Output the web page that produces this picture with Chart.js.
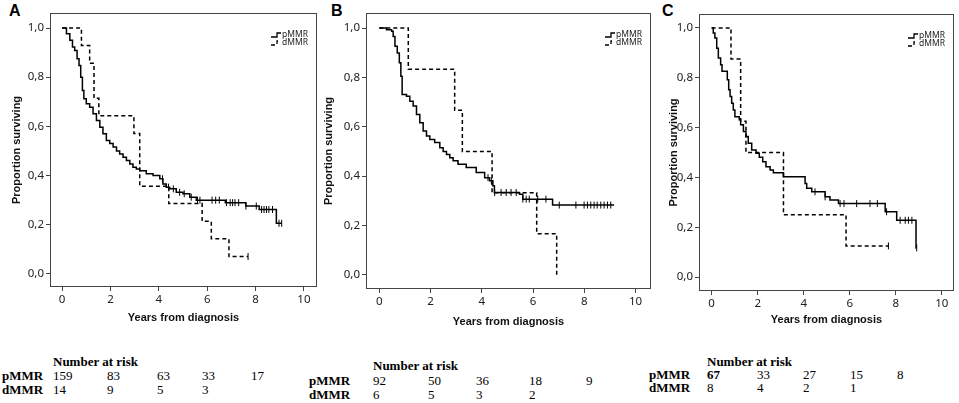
<!DOCTYPE html>
<html>
<head>
<meta charset="utf-8">
<script src="https://cdn.jsdelivr.net/npm/chart.js@4.4.1/dist/chart.umd.min.js"></script>
<style>
  html, body { margin: 0; padding: 0; background: #fff; }
  body { width: 959px; height: 403px; position: relative; overflow: hidden; }
  canvas { position: absolute; top: 0; }
  .letter { position: absolute; top: 3px; font: bold 16px "Liberation Sans", Arial, sans-serif; line-height: 16px; color: #000; }
  .risk { position: absolute; font: 13px "Liberation Serif", "Times New Roman", serif; line-height: 14px; white-space: nowrap; color: #000; }
  .risk.bold { font-weight: bold; }
</style>
</head>
<body>
<div class="letter" style="left:9px">A</div>
<div class="letter" style="left:331px">B</div>
<div class="letter" style="left:662px">C</div>
<script>
// Ticks shared by the three panels
const xTicks = [0, 2, 4, 6, 8, 10];
const yTicks = [0, 0.2, 0.4, 0.6, 0.8, 1.0];
const groupLabels = ['pMMR', 'dMMR'];

// Panel A - Kaplan-Meier steps: time of drop, survival after drop
const aPmmrT = [0, 0.18, 0.32, 0.43, 0.52, 0.62, 0.70, 0.77, 0.84, 0.90, 1.00, 1.14, 1.28, 1.42, 1.56, 1.69, 1.83, 1.97, 2.11, 2.25, 2.38, 2.52, 2.66, 2.80, 2.93, 3.07, 3.21, 3.48, 3.76, 4.04, 4.17, 4.31, 4.45, 4.72, 5.00, 5.28, 5.55, 6.75, 7.60, 8.15, 8.86, 9.08];
const aPmmrS = [1, 0.977, 0.95, 0.923, 0.909, 0.875, 0.848, 0.80, 0.746, 0.712, 0.692, 0.678, 0.651, 0.624, 0.597, 0.57, 0.543, 0.53, 0.516, 0.50, 0.488, 0.475, 0.461, 0.447, 0.434, 0.427, 0.42, 0.407, 0.40, 0.387, 0.366, 0.353, 0.346, 0.332, 0.326, 0.312, 0.30, 0.29, 0.276, 0.262, 0.206, 0.206];
const aPmmrCens = [4.15, 4.4, 4.6, 4.86, 5.05, 5.34, 5.6, 5.7, 6.2, 6.35, 6.5, 6.8, 6.95, 7.05, 7.15, 7.3, 7.6, 8.03, 8.25, 8.35, 8.45, 8.55, 8.7, 8.97, 9.08];
const aDmmrT = [0, 0.80, 1.14, 1.32, 1.52, 2.97, 3.21, 4.41, 5.79, 6.17, 6.90, 7.69];
const aDmmrS = [1, 0.929, 0.857, 0.714, 0.643, 0.571, 0.357, 0.286, 0.214, 0.143, 0.071, 0.071];
const aDmmrCens = [7.69];
const aRiskP = [159, 83, 63, 33, 17];
const aRiskD = [14, 9, 5, 3];

// Panel B
const bPmmrT = [0, 0.28, 0.48, 0.54, 0.61, 0.70, 0.78, 0.84, 0.89, 1.06, 1.19, 1.32, 1.45, 1.58, 1.71, 1.84, 1.97, 2.16, 2.36, 2.49, 2.62, 2.75, 2.88, 3.07, 3.39, 3.78, 4.11, 4.30, 4.43, 4.49, 5.47, 5.60, 6.76, 9.16];
const bPmmrS = [1, 0.993, 0.987, 0.966, 0.926, 0.899, 0.859, 0.805, 0.731, 0.724, 0.704, 0.684, 0.65, 0.616, 0.583, 0.563, 0.549, 0.536, 0.515, 0.50, 0.488, 0.475, 0.462, 0.448, 0.435, 0.415, 0.394, 0.381, 0.361, 0.334, 0.327, 0.307, 0.283, 0.283];
const bPmmrCens = [4.24, 4.37, 4.5, 4.75, 4.95, 5.14, 5.34, 5.6, 5.73, 5.85, 6.18, 6.5, 7.02, 7.67, 7.99, 8.12, 8.25, 8.38, 8.5, 8.64, 8.77, 8.9, 9.03];
const bDmmrT = [0, 1.13, 2.94, 3.24, 4.40, 6.14, 6.92];
const bDmmrS = [1, 0.833, 0.667, 0.5, 0.333, 0.167, 0];
const bDmmrCens = [];
const bRiskP = [92, 50, 36, 18, 9];
const bRiskD = [6, 5, 3, 2];

// Panel C
const cPmmrT = [0, 0.07, 0.14, 0.22, 0.29, 0.39, 0.45, 0.68, 0.74, 0.80, 0.87, 0.94, 1.01, 1.20, 1.26, 1.38, 1.49, 1.59, 1.74, 1.93, 2.07, 2.22, 2.36, 2.54, 2.68, 3.12, 4.06, 4.13, 4.35, 4.93, 5.14, 5.51, 7.54, 8.04, 8.88, 8.90];
const cPmmrS = [1, 0.98, 0.96, 0.919, 0.879, 0.852, 0.826, 0.792, 0.752, 0.725, 0.698, 0.671, 0.644, 0.631, 0.611, 0.584, 0.564, 0.537, 0.51, 0.497, 0.481, 0.463, 0.443, 0.43, 0.419, 0.403, 0.376, 0.356, 0.342, 0.322, 0.309, 0.295, 0.262, 0.228, 0.117, 0.117];
const cPmmrCens = [4.49, 4.93, 5.58, 5.75, 6.3, 6.88, 7.2, 7.6, 8.19, 8.41, 8.55, 8.7, 8.91];
const cDmmrT = [0, 0.84, 1.26, 1.49, 3.12, 5.84, 7.68];
const cDmmrS = [1, 0.875, 0.625, 0.5, 0.25, 0.125, 0.125];
const cDmmrCens = [7.68];
const cRiskP = [67, 33, 27, 15, 8];
const cRiskD = [8, 4, 2, 1];

// survival value at time t from a step curve
function survAt(times, surv, t) {
  let v = surv[0];
  for (let i = 0; i < times.length; i++) {
    if (times[i] <= t) v = surv[i];
  }
  return v;
}

function toPoints(times, surv) {
  return times.map((t, i) => ({ x: t, y: surv[i] }));
}

function censPoints(times, surv, cens) {
  return cens.map(t => ({ x: t, y: survAt(times, surv, t) }));
}

const tickFont = { family: '"Noto Sans", "DejaVu Sans", sans-serif', size: 11.5 };
const titleFont = { family: '"Liberation Sans", Arial, sans-serif', size: 11, weight: 'bold' };

// box outline + small legend in the top right corner
const boxPlugin = {
  id: 'kmBox',
  beforeDatasetsDraw(chart) {
    const { ctx, chartArea: a } = chart;
    ctx.save();
    ctx.strokeStyle = '#444';
    ctx.lineWidth = 1;
    ctx.strokeRect(a.left + 0.5, a.top + 0.5, a.right - a.left - 1, a.bottom - a.top - 1);
    ctx.restore();
  },
  afterDraw(chart) {
    const { ctx, chartArea: a } = chart;
    const lines = chart.data.datasets.filter(d => d.isCurve);
    ctx.save();
    ctx.font = '8.5px "Noto Sans", "DejaVu Sans", sans-serif';
    ctx.textBaseline = 'middle';
    ctx.fillStyle = '#222';
    lines.forEach((d, i) => {
      const x = a.right - 46;
      const y = a.top + 22 + i * 8;
      ctx.strokeStyle = '#000';
      ctx.lineWidth = 1.3;
      ctx.setLineDash(d.borderDash || []);
      ctx.beginPath();
      ctx.moveTo(x, y + 2);
      ctx.lineTo(x + 6, y + 2);
      ctx.lineTo(x + 6, y - 2);
      ctx.lineTo(x + 10, y - 2);
      ctx.stroke();
      ctx.setLineDash([]);
      ctx.fillText(d.label, x + 11, y);
    });
    ctx.restore();
  }
};

function drawPanel(p) {
  const canvas = document.createElement('canvas');
  canvas.width = p.w;
  canvas.height = p.h;
  canvas.style.left = p.left + 'px';
  canvas.style.width = p.w + 'px';
  canvas.style.height = p.h + 'px';
  document.body.appendChild(canvas);

  new Chart(canvas.getContext('2d'), {
    type: 'line',
    data: {
      datasets: [
        {
          label: groupLabels[0], isCurve: true,
          data: toPoints(p.pT, p.pS),
          stepped: 'before', borderColor: '#000', borderWidth: 1.5,
          pointRadius: 0, fill: false
        },
        {
          label: groupLabels[1], isCurve: true,
          data: toPoints(p.dT, p.dS),
          stepped: 'before', borderColor: '#000', borderWidth: 1.5,
          borderDash: [4, 3], pointRadius: 0, fill: false
        },
        {
          label: 'censored', type: 'scatter',
          data: censPoints(p.pT, p.pS, p.pC).concat(censPoints(p.dT, p.dS, p.dC)),
          pointStyle: 'line', rotation: 90, pointRadius: 3.5,
          borderColor: '#000', borderWidth: 1, showLine: false
        }
      ]
    },
    options: {
      responsive: false,
      animation: false,
      devicePixelRatio: 1,
      layout: { padding: { top: p.box.top, right: p.w - p.box.right, left: 0, bottom: 0 } },
      plugins: { legend: { display: false }, tooltip: { enabled: false } },
      scales: {
        x: {
          type: 'linear', min: p.xMin, max: p.xMax,
          afterBuildTicks: s => { s.ticks = xTicks.map(v => ({ value: v })); },
          afterFit: s => { s.height = p.h - p.box.bottom; },
          ticks: { font: tickFont, color: '#222', padding: 2, maxRotation: 0, autoSkip: false, callback: v => String(v) },
          grid: { drawOnChartArea: false, color: '#444', tickLength: 4 },
          border: { display: false },
          title: { display: true, text: 'Years from diagnosis', font: titleFont, color: '#111', padding: { top: 0, bottom: p.xTitlePad } }
        },
        y: {
          type: 'linear', min: p.yMin, max: p.yMax,
          afterBuildTicks: s => { s.ticks = yTicks.map(v => ({ value: v })); },
          afterFit: s => { s.width = p.box.left; },
          ticks: { font: tickFont, color: '#222', padding: 2, autoSkip: false, callback: v => v.toFixed(1).replace('.', ',') },
          grid: { drawOnChartArea: false, color: '#444', tickLength: 4 },
          border: { display: false },
          title: { display: true, text: 'Proportion surviving', font: titleFont, color: '#111', padding: { top: p.yTitlePad, bottom: 0 } }
        }
      }
    },
    plugins: [boxPlugin]
  });
}

function riskTable(t) {
  const put = (text, x, y, bold) => {
    const el = document.createElement('div');
    el.className = 'risk' + (bold ? ' bold' : '');
    el.style.left = x + 'px';
    el.style.top = (y - 7) + 'px';
    el.textContent = text;
    document.body.appendChild(el);
  };
  put('Number at risk', t.cols[0], t.rows[0], true);
  put(groupLabels[0], t.labelX, t.rows[1], true);
  put(groupLabels[1], t.labelX, t.rows[2], true);
  t.p.forEach((v, i) => put(String(v), t.cols[i], t.rows[1], t.boldFirst && i === 0));
  t.d.forEach((v, i) => put(String(v), t.cols[i], t.rows[2], false));
}

drawPanel({ left: 0, w: 322, h: 335, box: { left: 50, top: 13, right: 317, bottom: 287 },
  xMin: -0.5, xMax: 10.54, yMin: -0.053, yMax: 1.061, xTitlePad: 10.4, yTitlePad: 10.4,
  pT: aPmmrT, pS: aPmmrS, pC: aPmmrCens, dT: aDmmrT, dS: aDmmrS, dC: aDmmrCens });
drawPanel({ left: 320, w: 336, h: 335, box: { left: 46, top: 13, right: 332, bottom: 289 },
  xMin: -0.52, xMax: 10.6, yMin: -0.057, yMax: 1.061, xTitlePad: 6.4, yTitlePad: 2.4,
  pT: bPmmrT, pS: bPmmrS, pC: bPmmrCens, dT: bDmmrT, dS: bDmmrS, dC: bDmmrCens });
drawPanel({ left: 660, w: 299, h: 335, box: { left: 39, top: 14, right: 294, bottom: 291 },
  xMin: -0.55, xMax: 10.53, yMin: -0.056, yMax: 1.056, xTitlePad: 8.4, yTitlePad: 7.4,
  pT: cPmmrT, pS: cPmmrS, pC: cPmmrCens, dT: cDmmrT, dS: cDmmrS, dC: cDmmrCens });

riskTable({ labelX: 2, cols: [53, 107, 157, 202, 251], rows: [362, 376, 390], p: aRiskP, d: aRiskD });
riskTable({ labelX: 309, cols: [373, 428, 476, 529, 586], rows: [366, 381, 395], p: bRiskP, d: bRiskD });
riskTable({ labelX: 649, cols: [707, 757, 803, 850, 897], rows: [362, 375, 388], p: cRiskP, d: cRiskD, boldFirst: true });
</script>
</body>
</html>
